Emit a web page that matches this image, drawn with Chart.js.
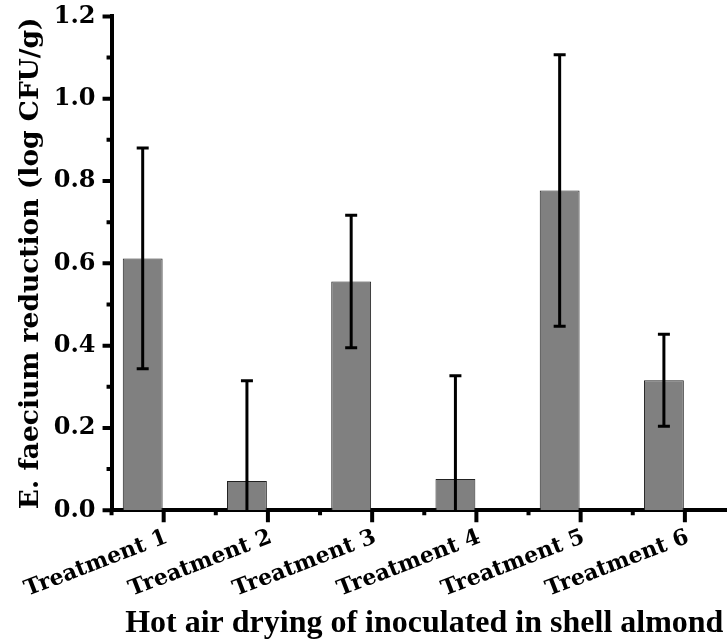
<!DOCTYPE html>
<html>
<head>
<meta charset="utf-8">
<script src="https://cdn.jsdelivr.net/npm/chart.js@4/dist/chart.umd.min.js"></script>
<style>
    html, body { margin: 0; padding: 0; background: #fff; overflow: hidden; }
    #wrap { width: 740px; height: 640px; }
</style>
</head>
<body>
<div id="wrap"><canvas id="ReductionChart"></canvas></div>
<script>
const treatments = ['Treatment 1', 'Treatment 2', 'Treatment 3', 'Treatment 4', 'Treatment 5', 'Treatment 6'];
const reduction = [0.612, 0.071, 0.556, 0.076, 0.777, 0.316];
const reductionErr = [0.268, 0.244, 0.161, 0.251, 0.33, 0.112];
const emptyGroup = [null, null, null, null, null, null];
const yTicks = [0, 0.2, 0.4, 0.6, 0.8, 1.0, 1.2];

// error bars on top of the bars (bottom part is clipped at the axis)
const errorBars = {
    id: 'errorBars',
    afterDatasetsDraw(chart) {
        const ctx = chart.ctx;
        const y = chart.scales.y;
        const meta = chart.getDatasetMeta(0);
        const area = chart.chartArea;
        ctx.save();
        ctx.beginPath();
        ctx.rect(area.left, area.top - 10, area.right - area.left, area.bottom - area.top + 10);
        ctx.clip();
        ctx.strokeStyle = '#000';
        ctx.lineWidth = 3;
        meta.data.forEach(function(bar, i) {
            const top = y.getPixelForValue(reduction[i] + reductionErr[i]);
            const bot = y.getPixelForValue(reduction[i] - reductionErr[i]);
            ctx.beginPath();
            ctx.moveTo(bar.x, top);
            ctx.lineTo(bar.x, bot);
            ctx.moveTo(bar.x - 6, top);
            ctx.lineTo(bar.x + 6, top);
            ctx.moveTo(bar.x - 6, bot);
            ctx.lineTo(bar.x + 6, bot);
            ctx.stroke();
        });
        ctx.restore();
    }
};

// major and minor tick marks pointing outwards
const tickMarks = {
    id: 'tickMarks',
    afterDraw(chart) {
        const ctx = chart.ctx;
        const x = chart.scales.x;
        const y = chart.scales.y;
        const area = chart.chartArea;
        ctx.save();
        ctx.strokeStyle = '#000';
        ctx.lineWidth = 4;
        ctx.beginPath();
        for (let i = 0; i < treatments.length; i++) {
            const px = x.getPixelForTick(i);
            ctx.moveTo(px, area.bottom);
            ctx.lineTo(px, area.bottom + 12);
            const half = px - (x.getPixelForTick(1) - x.getPixelForTick(0)) / 2;
            ctx.moveTo(half, area.bottom);
            ctx.lineTo(half, area.bottom + 5);
        }
        yTicks.forEach(function(v, i) {
            const py = y.getPixelForValue(v);
            ctx.moveTo(area.left, py);
            ctx.lineTo(area.left - 9, py);
            if (i < yTicks.length - 1) {
                const pm = y.getPixelForValue(v + 0.1);
                ctx.moveTo(area.left, pm);
                ctx.lineTo(area.left - 5, pm);
            }
        });
        ctx.stroke();
        ctx.restore();
    }
};

const ctx = document.getElementById('ReductionChart').getContext('2d');
new Chart(ctx, {
    type: 'bar',
    data: {
        labels: treatments,
        datasets: [{
            label: 'E. faecium reduction',
            data: reduction,
            backgroundColor: '#808080',
            borderColor: '#222222',
            borderWidth: 1,
            categoryPercentage: 0.805,
            barPercentage: 0.95
        }, {
            label: '',
            data: emptyGroup,
            categoryPercentage: 0.805,
            barPercentage: 0.95
        }]
    },
    options: {
        responsive: true,
        maintainAspectRatio: false,
        animation: false,
        layout: { padding: { left: 3, right: 3, top: 0, bottom: -5 } },
        plugins: {
            legend: { display: false },
            tooltip: { enabled: false }
        },
        scales: {
            x: {
                grid: { display: false, drawTicks: true, tickLength: 14 },
                border: { display: true, color: '#000', width: 4 },
                ticks: {
                    color: '#000',
                    autoSkip: false,
                    minRotation: 21,
                    maxRotation: 21,
                    padding: 0,
                    labelOffset: 3,
                    font: { family: 'DejaVu Serif', weight: 'bold', size: 22 }
                },
                title: {
                    display: true,
                    text: 'Hot air drying of inoculated in shell almond',
                    color: '#000',
                    padding: { top: 1.5, bottom: 2 },
                    font: { family: 'Liberation Serif', weight: 'bold', size: 32 }
                }
            },
            y: {
                min: 0,
                max: 1.2,
                grid: { display: false, drawTicks: true, tickLength: 14 },
                border: { display: true, color: '#000', width: 4 },
                ticks: {
                    stepSize: 0.2,
                    color: '#000',
                    padding: 2,
                    callback: function(v) { return v.toFixed(1); },
                    font: { family: 'DejaVu Serif', weight: 'bold', size: 24 }
                },
                title: {
                    display: true,
                    text: 'E. faecium reduction (log CFU/g)',
                    color: '#000',
                    padding: { top: 12, bottom: 5 },
                    font: { family: 'DejaVu Serif', weight: 'bold', size: 26.5 }
                }
            }
        }
    },
    plugins: [errorBars, tickMarks]
});
</script>
</body>
</html>
